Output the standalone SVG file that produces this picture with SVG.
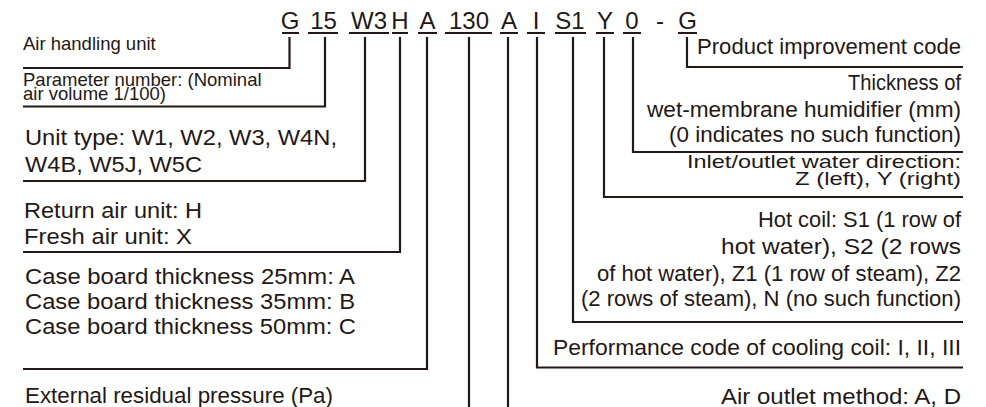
<svg xmlns="http://www.w3.org/2000/svg" width="986" height="407" viewBox="0 0 986 407">
<style>
text{font-family:"Liberation Sans",Arial,sans-serif;fill:#231815}
.code{font-size:24px;text-anchor:middle}
.sm{font-size:18.5px}
.t{font-size:22.5px}
.r{text-anchor:end}
.ul{stroke:#231815;stroke-width:2;fill:none}
.cn{stroke:#231815;stroke-width:2.2;fill:none}
</style>
<rect width="986" height="407" fill="#fff"/>
<g id="code">
<g id="c-G"><text class="code" x="290" y="29">G</text><line class="ul" x1="282" y1="33" x2="299" y2="33"/></g>
<g id="c-15"><text class="code" x="323.5" y="29">15</text><line class="ul" x1="308" y1="33" x2="338" y2="33"/></g>
<g id="c-W3"><text class="code" x="369" y="29">W3</text><line class="ul" x1="349" y1="33" x2="389" y2="33"/></g>
<g id="c-H"><text class="code" x="400" y="29">H</text><line class="ul" x1="392" y1="33" x2="408" y2="33"/></g>
<g id="c-A1"><text class="code" x="427.5" y="29">A</text><line class="ul" x1="418" y1="33" x2="437" y2="33"/></g>
<g id="c-130"><text class="code" x="469" y="29">130</text><line class="ul" x1="445" y1="33" x2="492" y2="33"/></g>
<g id="c-A2"><text class="code" x="509" y="29">A</text><line class="ul" x1="500" y1="33" x2="518" y2="33"/></g>
<g id="c-I"><text class="code" x="536" y="29">I</text><line class="ul" x1="527" y1="33" x2="545" y2="33"/></g>
<g id="c-S1"><text class="code" x="570" y="29">S1</text><line class="ul" x1="555" y1="33" x2="586" y2="33"/></g>
<g id="c-Y"><text class="code" x="605" y="29">Y</text><line class="ul" x1="596" y1="33" x2="614" y2="33"/></g>
<g id="c-0"><text class="code" x="632" y="29">0</text><line class="ul" x1="623" y1="33" x2="641" y2="33"/></g>
<g id="c-dash"><text class="code" x="660" y="29">-</text></g>
<g id="c-G2"><text class="code" x="687.5" y="29">G</text><line class="ul" x1="678" y1="33" x2="697" y2="33"/></g>
</g>
<g id="connectors">
<path class="cn" d="M289.5 37V68H23"/>
<path class="cn" d="M325 37V106.5H23"/>
<path class="cn" d="M365 37V181H23"/>
<path class="cn" d="M400 37V252H23"/>
<path class="cn" d="M427 37V369H23"/>
<path class="cn" d="M469 37V407"/>
<path class="cn" d="M508 37V407"/>
<path class="cn" d="M537 37V367.5H963"/>
<path class="cn" d="M573 37V322H963"/>
<path class="cn" d="M604 37V197H963"/>
<path class="cn" d="M633 37V152H963"/>
<path class="cn" d="M687 37V67H963"/>
</g>
<g id="n-air-handling"><text class="sm" x="23" y="49.5">Air handling unit</text></g>
<g id="n-parameter"><text class="sm" x="23" y="86">Parameter number: (Nominal</text><text class="sm" x="23" y="99.5">air volume 1/100)</text></g>
<g id="n-unit-type"><text class="t" x="25" y="145" textLength="312" lengthAdjust="spacingAndGlyphs">Unit type: W1, W2, W3, W4N,</text><text class="t" x="25" y="171.5" textLength="177" lengthAdjust="spacingAndGlyphs">W4B, W5J, W5C</text></g>
<g id="n-return"><text class="t" x="24" y="217.5" textLength="178" lengthAdjust="spacingAndGlyphs">Return air unit: H</text><text class="t" x="24" y="244" textLength="168" lengthAdjust="spacingAndGlyphs">Fresh air unit: X</text></g>
<g id="n-case"><text class="t" x="25" y="283.5" textLength="330" lengthAdjust="spacingAndGlyphs">Case board thickness 25mm: A</text><text class="t" x="25" y="308.5" textLength="330" lengthAdjust="spacingAndGlyphs">Case board thickness 35mm: B</text><text class="t" x="25" y="333.5" textLength="331" lengthAdjust="spacingAndGlyphs">Case board thickness 50mm: C</text></g>
<g id="n-pressure"><text class="t" x="25" y="403" textLength="308" lengthAdjust="spacingAndGlyphs">External residual pressure (Pa)</text></g>
<g id="n-improvement"><text class="t r" x="961" y="53.5" textLength="264" lengthAdjust="spacingAndGlyphs">Product improvement code</text></g>
<g id="n-humidifier"><text class="t r" x="961" y="90" textLength="113" lengthAdjust="spacingAndGlyphs">Thickness of</text><text class="t r" x="961" y="116.5" textLength="314" lengthAdjust="spacingAndGlyphs">wet-membrane humidifier (mm)</text><text class="t r" x="961" y="142" textLength="292" lengthAdjust="spacingAndGlyphs">(0 indicates no such function)</text></g>
<g id="n-water-dir"><text class="t r" transform="translate(961 167.5) scale(1 0.78)" textLength="274" lengthAdjust="spacingAndGlyphs">Inlet/outlet water direction:</text><text class="t r" transform="translate(961 184.5) scale(1 0.78)" textLength="166" lengthAdjust="spacingAndGlyphs">Z (left), Y (right)</text></g>
<g id="n-hot-coil"><text class="t r" x="961" y="227" textLength="203" lengthAdjust="spacingAndGlyphs">Hot coil: S1 (1 row of</text><text class="t r" x="961" y="254" textLength="240" lengthAdjust="spacingAndGlyphs">hot water), S2 (2 rows</text><text class="t r" x="961" y="280.5" textLength="364" lengthAdjust="spacingAndGlyphs">of hot water), Z1 (1 row of steam), Z2</text><text class="t r" x="961" y="306" textLength="380" lengthAdjust="spacingAndGlyphs">(2 rows of steam), N (no such function)</text></g>
<g id="n-cooling"><text class="t r" x="961" y="355" textLength="408" lengthAdjust="spacingAndGlyphs">Performance code of cooling coil: I, II, III</text></g>
<g id="n-outlet"><text class="t r" x="961" y="404" textLength="240" lengthAdjust="spacingAndGlyphs">Air outlet method: A, D</text></g>
</svg>
